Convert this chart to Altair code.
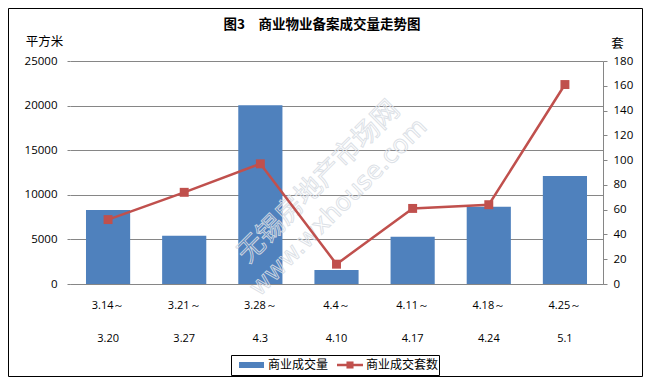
import altair as alt
import pandas as pd

# ---- data ----
starts = ["3.14～", "3.21～", "3.28～", "4.4～", "4.11～", "4.18～", "4.25～"]
ends = ["3.20", "3.27", "4.3", "4.10", "4.17", "4.24", "5.1"]
area = [8300, 5400, 20050, 1580, 5300, 8650, 12100]   # 商业成交量 (平方米)
units = [52, 74, 97, 16, 61, 64, 161]                  # 商业成交套数 (套)
series_names = ["商业成交量", "商业成交套数"]
left_ticks = [0, 5000, 10000, 15000, 20000, 25000]
right_ticks = [0, 20, 40, 60, 80, 100, 120, 140, 160, 180]
chart_title = "图3　商业物业备案成交量走势图"
watermark = ["无锡房地产市场网", "www.wxhouse.com"]

cats = [s + "|" + e for s, e in zip(starts, ends)]
df = pd.DataFrame({"cat": cats, "area": area, "units": units})

BLUE = "#4F81BD"
RED = "#C0504D"
GRID = "#868686"
NUM_FONT = "Open Sans"
CJK = "Noto Sans CJK SC"

x = alt.X(
    "cat:N",
    sort=cats,
    scale=alt.Scale(paddingInner=0.42, paddingOuter=0.21),
    axis=alt.Axis(
        title=None,
        labelExpr="split(datum.label, '|')",
        labelAngle=0,
        tickSize=0,
        domainColor=GRID,
        labelPadding=15,
        labelLineHeight=33,
        labelFont=NUM_FONT,
        labelFontSize=11,
        labelColor="black",
        labelBaseline="top",
    ),
)

bars = alt.Chart(df).mark_bar(color=BLUE).encode(
    x=x,
    y=alt.Y(
        "area:Q",
        scale=alt.Scale(domain=[0, 25000], nice=False),
        axis=alt.Axis(
            values=left_ticks,
            format="d",
            title="平方米",
            titleAngle=0,
            titleX=-26,
            titleY=-20,
            titleAlign="center",
            titleBaseline="middle",
            titleFont=CJK,
            titleFontSize=12.5,
            titleFontWeight="normal",
            titleColor="black",
            grid=True,
            gridColor=GRID,
            domain=False,
            tickColor=GRID,
            tickSize=3,
            labelPadding=10,
            labelFont=NUM_FONT,
            labelFontSize=11.5,
            labelColor="black",
        ),
    ),
)

line = alt.Chart(df).mark_line(
    color=RED,
    strokeWidth=2.5,
    point=alt.OverlayMarkDef(shape="square", size=80, filled=True, color=RED, opacity=1),
).encode(
    x=x,
    y=alt.Y(
        "units:Q",
        scale=alt.Scale(domain=[0, 180], nice=False),
        axis=alt.Axis(
            orient="right",
            values=right_ticks,
            title="套",
            titleAngle=0,
            titleX=14,
            titleY=-18,
            titleAlign="center",
            titleBaseline="middle",
            titleFont=CJK,
            titleFontSize=12.5,
            titleFontWeight="normal",
            titleColor="black",
            grid=False,
            domainColor=GRID,
            tickColor=GRID,
            tickSize=4,
            labelPadding=6,
            labelFont=NUM_FONT,
            labelFontSize=11.5,
            labelColor="black",
        ),
    ),
)

one = pd.DataFrame({"k": [0]})

wm1 = alt.Chart(pd.DataFrame({"t": [watermark[0]]})).mark_text(
    font=CJK, fontSize=27, angle=315, align="center", baseline="middle",
    fillOpacity=0, stroke="#d8dde4", strokeWidth=1, strokeOpacity=0.9,
).encode(text="t:N", x=alt.value(249), y=alt.value(121))

wm2 = alt.Chart(pd.DataFrame({"t": [watermark[1]]})).mark_text(
    font="DejaVu Sans", fontSize=25, angle=315, align="center", baseline="middle",
    fillOpacity=0, stroke="#d8dde4", strokeWidth=1, strokeOpacity=0.9,
).encode(text="t:N", x=alt.value(268), y=alt.value(146))

title = alt.Chart(pd.DataFrame({"t": [chart_title]})).mark_text(
    font=CJK, fontSize=13.5, fontWeight="bold", align="center", baseline="middle", color="black"
).encode(text="t:N", x=alt.value(252), y=alt.value(-36))

# legend (drawn as decoration)
leg_box = alt.Chart(one).mark_rect(fill="white", stroke="black", strokeWidth=1).encode(
    x=alt.value(161.5), x2=alt.value(369.5), y=alt.value(294.5), y2=alt.value(314.5)
)
leg_sw1 = alt.Chart(one).mark_rect(color=BLUE).encode(
    x=alt.value(169), x2=alt.value(194), y=alt.value(301), y2=alt.value(307)
)
leg_t1 = alt.Chart(pd.DataFrame({"t": [series_names[0]]})).mark_text(
    font=CJK, fontSize=12, align="left", baseline="middle", color="black"
).encode(text="t:N", x=alt.value(198), y=alt.value(304))
leg_l2 = alt.Chart(one).mark_rule(color=RED, strokeWidth=2.5).encode(
    x=alt.value(267), x2=alt.value(293), y=alt.value(304)
)
leg_p2 = alt.Chart(one).mark_point(shape="square", size=50, filled=True, color=RED, opacity=1).encode(
    x=alt.value(280), y=alt.value(304)
)
leg_t2 = alt.Chart(pd.DataFrame({"t": [series_names[1]]})).mark_text(
    font=CJK, fontSize=12, align="left", baseline="middle", color="black"
).encode(text="t:N", x=alt.value(296), y=alt.value(304))

border = alt.Chart(one).mark_rect(fill="transparent", stroke="black", strokeWidth=1).encode(
    x=alt.value(-61.5), x2=alt.value(572.5), y=alt.value(-52.5), y2=alt.value(315.5)
)

chart = (
    alt.layer(bars, wm1, wm2, line, title, leg_box, leg_sw1, leg_t1, leg_l2, leg_p2, leg_t2, border)
    .resolve_scale(y="independent")
    .properties(
        width=533,
        height=223,
        autosize="none",
        padding={"left": 62, "top": 53, "right": 40, "bottom": 93},
        background="white",
    )
    .configure_view(stroke=None)
)

chart.save("out.html", embed_options={"renderer": "svg", "actions": False})
